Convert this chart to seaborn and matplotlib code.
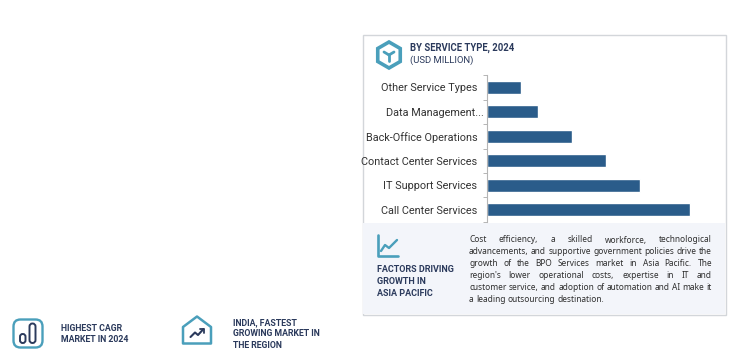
import numpy as np
import pandas as pd
import matplotlib
matplotlib.use('Agg')
import matplotlib.pyplot as plt
import seaborn as sns
from matplotlib.patches import Rectangle, Polygon, FancyBboxPatch

# values (no axis scale is shown in the picture)
categories = ['Other Service Types', 'Data Management...', 'Back-Office Operations',
              'Contact Center Services', 'IT Support Services', 'Call Center Services']
values = [34, 51, 85, 119, 153, 203]

body_lines = ['Cost efficiency, a skilled workforce, technological',
              'advancements, and supportive government policies drive the',
              'growth of the BPO Services market in Asia Pacific. The',
              "region's lower operational costs, expertise in IT and",
              'customer service, and adoption of automation and AI make it',
              'a leading outsourcing destination.']

W, H = 751, 358
NAVY = '#2b3a5c'
TEAL = '#4a9fbb'
BAR = '#2a5c8a'

sns.set_style('white')
plt.rcParams['font.family'] = ['Roboto', 'DejaVu Sans']

fig = plt.figure(figsize=(W / 100, H / 100), dpi=100)

# full figure layer in pixel coordinates for frame, text and icons
bg = fig.add_axes([0, 0, 1, 1], zorder=0)
bg.set_xlim(0, W)
bg.set_ylim(H, 0)
bg.axis('off')

bg.add_patch(Rectangle((362.5, 34.5), 363, 280, fc='white', ec='#d3d6da', lw=1))
bg.add_patch(Rectangle((363, 223), 362, 91, fc='#f3f5fa', ec='none'))


def px_axes(left, top, right, bottom):
    return fig.add_axes([left / W, 1 - bottom / H, (right - left) / W, (bottom - top) / H], zorder=1)


ax = px_axes(487, 75, 725, 222)
df = pd.DataFrame({'service': categories, 'value': values})
sns.barplot(data=df, y='service', x='value', order=categories, color=BAR, width=0.53,
            saturation=1, ax=ax)
ax.set_facecolor('none')
ax.set_xlim(0, 238)
ax.set_ylim(5.5, -0.5)
ax.set_xlabel('')
ax.set_ylabel('')
ax.set_xticks([])
sns.despine(ax=ax, top=True, right=True, bottom=True)
ax.spines['left'].set_color('#b5b5b5')
ax.spines['left'].set_linewidth(0.8)
ax.set_yticks(np.arange(-0.5, 6, 1), minor=True)
ax.tick_params(axis='y', which='minor', length=3, width=0.7, color='#b5b5b5', left=True)
ax.tick_params(axis='y', which='major', length=0, pad=7, labelsize=7.8, labelcolor='#333333')
ax.yaxis.get_major_ticks()[1].set_pad(2)

# header
bg.text(410, 48, 'BY SERVICE TYPE, 2024', fontsize=6.85, fontweight='bold', color=NAVY, va='center')
bg.text(410, 60.5, '(USD MILLION)', fontsize=6.8, color=NAVY, va='center')

# hexagon icon
ang = np.radians(np.arange(30, 390, 60))
bg.add_patch(Polygon(np.c_[389 + 13 * np.cos(ang), 55 + 13 * np.sin(ang)], closed=True,
                     fc='none', ec=TEAL, lw=2.6))
for dx, dy in [(-5, -3), (5, -3), (0, 6)]:
    bg.plot([389, 389 + dx], [55, 55 + dy], color=TEAL, lw=2, solid_capstyle='round')

# trend icon in the factors panel
bg.plot([378, 378, 398], [235, 255.5, 255.5], color=TEAL, lw=1.9)
bg.plot([381, 385, 389, 397], [251, 245, 248, 240], color=TEAL, lw=1.7)

for y, s in zip([270, 281.5, 293], ['FACTORS DRIVING', 'GROWTH IN', 'ASIA PACIFIC']):
    bg.text(377, y, s, fontsize=6.5, fontweight='bold', color=NAVY, va='center')

# justified paragraph, word by word
renderer = fig.canvas.get_renderer()
x0, x1 = 469, 712
for i, line in enumerate(body_lines):
    y = 240 + i * 11.8
    words = line.split(' ')
    arts = [bg.text(0, y, w, fontsize=6.0, family='Noto Sans', color='#2f2f2f', va='center') for w in words]
    widths = [a.get_window_extent(renderer).width for a in arts]
    if i == len(body_lines) - 1:
        gap = 2.2
    else:
        gap = (x1 - x0 - sum(widths)) / (len(words) - 1)
    x = x0
    for a, w in zip(arts, widths):
        a.set_x(x)
        x += w + gap

# bottom left callouts
bg.add_patch(FancyBboxPatch((13.5, 319.5), 29, 28, boxstyle='round,pad=0,rounding_size=7',
                            fc='none', ec=TEAL, lw=1.7))
bg.add_patch(FancyBboxPatch((29.5, 323.5), 6, 19.5, boxstyle='round,pad=0,rounding_size=3',
                            fc='none', ec=NAVY, lw=1.4))
bg.add_patch(FancyBboxPatch((20, 334), 5.5, 9, boxstyle='round,pad=0,rounding_size=2.7',
                            fc='none', ec=NAVY, lw=1.4))
for y, s in zip([328.5, 339.5], ['HIGHEST CAGR', 'MARKET IN 2024']):
    bg.text(61, y, s, fontsize=6.3, fontweight='bold', color=NAVY, va='center')

bg.add_patch(Polygon([[183, 327], [197, 316.5], [211, 327], [211, 343.5], [183, 343.5]], closed=True,
                     fc='none', ec=TEAL, lw=1.8, joinstyle='round'))
bg.plot([190.5, 195, 198, 203.5], [337, 332.5, 335, 329], color=NAVY, lw=1.5)
bg.plot([200, 204, 204], [329, 329, 333], color=NAVY, lw=1.3)
for y, s in zip([322.5, 334, 346], ['INDIA, FASTEST', 'GROWING MARKET IN', 'THE REGION']):
    bg.text(233, y, s, fontsize=6.3, fontweight='bold', color=NAVY, va='center')

fig.savefig('out.png', dpi=100)
